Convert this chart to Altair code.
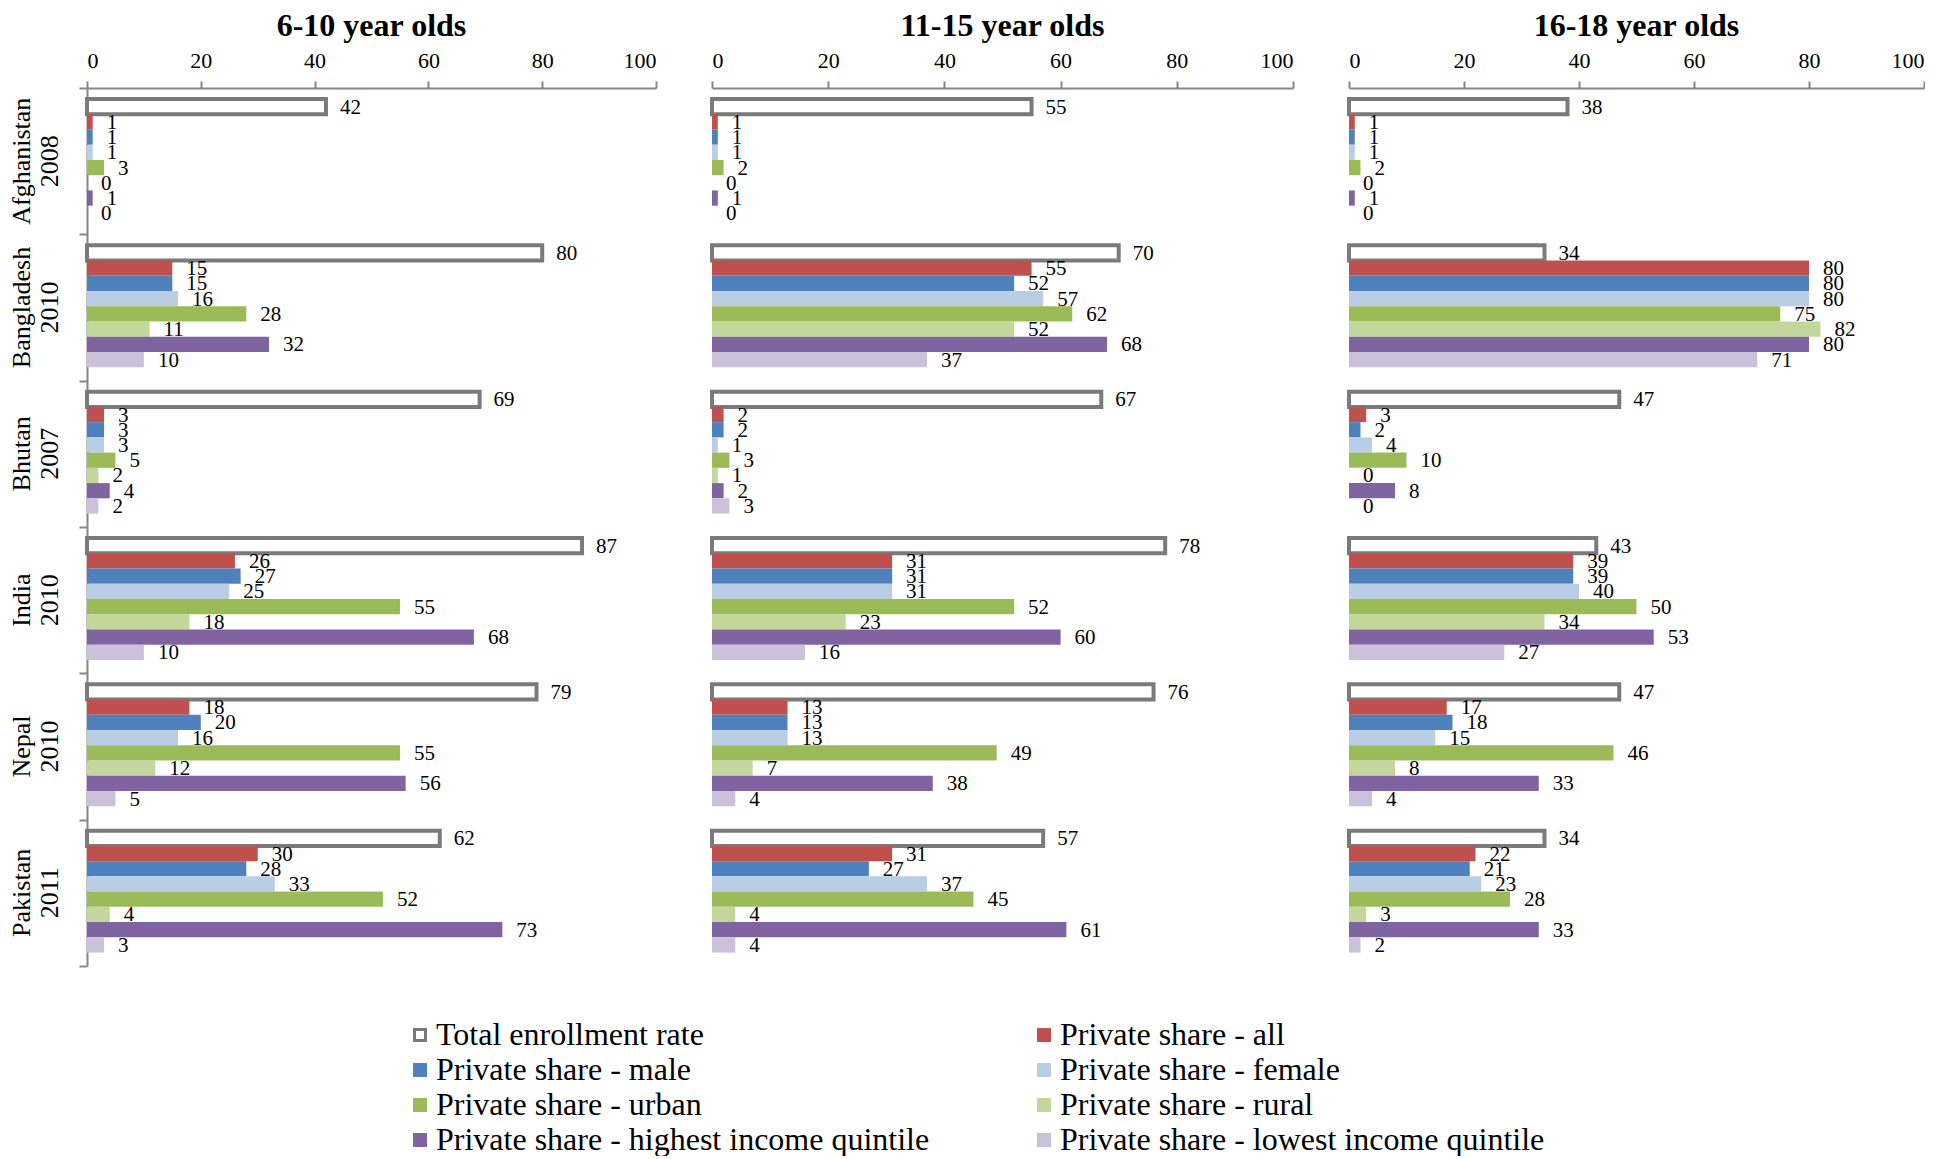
import altair as alt
import pandas as pd

country_names = ["Afghanistan", "Bangladesh", "Bhutan", "India", "Nepal", "Pakistan"]
survey_years = ["2008", "2010", "2007", "2010", "2010", "2011"]
countries = [f"{c} {y}" for c, y in zip(country_names, survey_years)]

series = [
    "Total enrollment rate",
    "Private share - all",
    "Private share - male",
    "Private share - female",
    "Private share - urban",
    "Private share - rural",
    "Private share - highest income quintile",
    "Private share - lowest income quintile",
]
series_colors = {
    "Total enrollment rate": ("#FFFFFF", "#7A7A7A"),
    "Private share - all": ("#C0504D", "#C0504D"),
    "Private share - male": ("#4F81BD", "#4F81BD"),
    "Private share - female": ("#B9CDE5", "#B9CDE5"),
    "Private share - urban": ("#9BBB59", "#9BBB59"),
    "Private share - rural": ("#C3D69B", "#C3D69B"),
    "Private share - highest income quintile": ("#8064A2", "#8064A2"),
    "Private share - lowest income quintile": ("#CCC1DA", "#CCC1DA"),
}
# legend reads row by row in two columns; Vega fills columns first
legend_order = [series[i] for i in (0, 2, 4, 6, 1, 3, 5, 7)]
fill_range = [series_colors[s][0] for s in legend_order]
stroke_range = [series_colors[s][1] for s in legend_order]

panel_titles = ["6-10 year olds", "11-15 year olds", "16-18 year olds"]

# 6-10 year olds (values per country, in the order of `countries`)
total_6_10 = [42, 80, 69, 87, 79, 62]
all_6_10 = [1, 15, 3, 26, 18, 30]
male_6_10 = [1, 15, 3, 27, 20, 28]
female_6_10 = [1, 16, 3, 25, 16, 33]
urban_6_10 = [3, 28, 5, 55, 55, 52]
rural_6_10 = [0, 11, 2, 18, 12, 4]
highest_6_10 = [1, 32, 4, 68, 56, 73]
lowest_6_10 = [0, 10, 2, 10, 5, 3]

# 11-15 year olds
total_11_15 = [55, 70, 67, 78, 76, 57]
all_11_15 = [1, 55, 2, 31, 13, 31]
male_11_15 = [1, 52, 2, 31, 13, 27]
female_11_15 = [1, 57, 1, 31, 13, 37]
urban_11_15 = [2, 62, 3, 52, 49, 45]
rural_11_15 = [0, 52, 1, 23, 7, 4]
highest_11_15 = [1, 68, 2, 60, 38, 61]
lowest_11_15 = [0, 37, 3, 16, 4, 4]

# 16-18 year olds
total_16_18 = [38, 34, 47, 43, 47, 34]
all_16_18 = [1, 80, 3, 39, 17, 22]
male_16_18 = [1, 80, 2, 39, 18, 21]
female_16_18 = [1, 80, 4, 40, 15, 23]
urban_16_18 = [2, 75, 10, 50, 46, 28]
rural_16_18 = [0, 82, 0, 34, 8, 3]
highest_16_18 = [1, 80, 8, 53, 33, 33]
lowest_16_18 = [0, 71, 0, 27, 4, 2]

panel_data = [
    [total_6_10, all_6_10, male_6_10, female_6_10, urban_6_10, rural_6_10, highest_6_10, lowest_6_10],
    [total_11_15, all_11_15, male_11_15, female_11_15, urban_11_15, rural_11_15, highest_11_15, lowest_11_15],
    [total_16_18, all_16_18, male_16_18, female_16_18, urban_16_18, rural_16_18, highest_16_18, lowest_16_18],
]

FONT = "Liberation Serif"
GRAY = "#868686"
widths = [569, 581, 575]
HEIGHT = 878

label_df = pd.DataFrame({"country": countries, "name": country_names, "year": survey_years})


def make_df(lists):
    rows = []
    for s, vals in zip(series, lists):
        for c, v in zip(countries, vals):
            rows.append({"country": c, "series": s, "value": v})
    return pd.DataFrame(rows)


def make_panel(idx):
    df = make_df(panel_data[idx])
    base = alt.Chart(df)
    x = alt.X(
        "value:Q",
        scale=alt.Scale(domain=[0, 100], nice=False, zero=True),
        axis=alt.Axis(
            orient="top", values=[0, 20, 40, 60, 80, 100], grid=False,
            domainColor=GRAY, domainWidth=2, tickColor=GRAY, tickWidth=2, tickSize=7,
            labelFont=FONT, labelFontSize=22, labelColor="black", labelPadding=9,
        ),
        title=None,
    )
    if idx == 0:
        yaxis = alt.Axis(
            orient="left", tickBand="extent", domainColor=GRAY, domainWidth=2,
            tickColor=GRAY, tickWidth=2, tickSize=8, labels=False,
        )
    else:
        yaxis = None
    y = alt.Y("country:N", sort=countries, scale=alt.Scale(paddingInner=0, paddingOuter=0), axis=yaxis, title=None)
    yo = alt.YOffset("series:N", sort=series, scale=alt.Scale(paddingInner=0, paddingOuter=0.8, align=0.45))

    bars = base.mark_bar().encode(
        x=x, y=y, yOffset=yo,
        fill=alt.Fill("series:N", scale=alt.Scale(domain=legend_order, range=fill_range),
                      legend=alt.Legend(
                          title=None, orient="none", legendX=317, legendY=931, columns=2,
                          columnPadding=98, rowPadding=3, labelOffset=0, labelLimit=0,
                          labelFont=FONT, labelFontSize=32, labelColor="black",
                          symbolType="square", symbolSize=121, symbolStrokeWidth=3, padding=0,
                      )),
        stroke=alt.Stroke("series:N", scale=alt.Scale(domain=legend_order, range=stroke_range), legend=None),
        strokeWidth=alt.condition(alt.datum.series == "Total enrollment rate", alt.value(4), alt.value(0)),
    )
    labels = base.mark_text(align="left", baseline="middle", dx=14, dy=1, font=FONT, fontSize=21, color="black").encode(
        x=alt.X("value:Q"), y=alt.Y("country:N", sort=countries), yOffset=alt.YOffset("series:N", sort=series),
        text=alt.Text("value:Q"),
    )
    layers = [bars, labels]
    if idx == 0:
        lab = alt.Chart(label_df)
        names = lab.mark_text(angle=270, align="center", baseline="middle", font=FONT, fontSize=26, color="black").encode(
            y=alt.Y("country:N", sort=countries), x=alt.value(-65), text="name:N"
        )
        years = lab.mark_text(angle=270, align="center", baseline="middle", font=FONT, fontSize=26, color="black").encode(
            y=alt.Y("country:N", sort=countries), x=alt.value(-37), text="year:N"
        )
        layers += [names, years]
    return alt.layer(*layers).properties(
        width=widths[idx], height=HEIGHT,
        title=alt.TitleParams(panel_titles[idx], font=FONT, fontSize=32, fontWeight="bold", color="black", offset=6, anchor="middle"),
    )


chart = alt.hconcat(make_panel(0), make_panel(1), make_panel(2), spacing=56, bounds="flush").properties(
    padding={"left": 0, "top": 2, "right": 0, "bottom": 0}, background="white"
).configure_view(stroke=None)

chart.save("out.html", embed_options={"renderer": "svg", "actions": False})
